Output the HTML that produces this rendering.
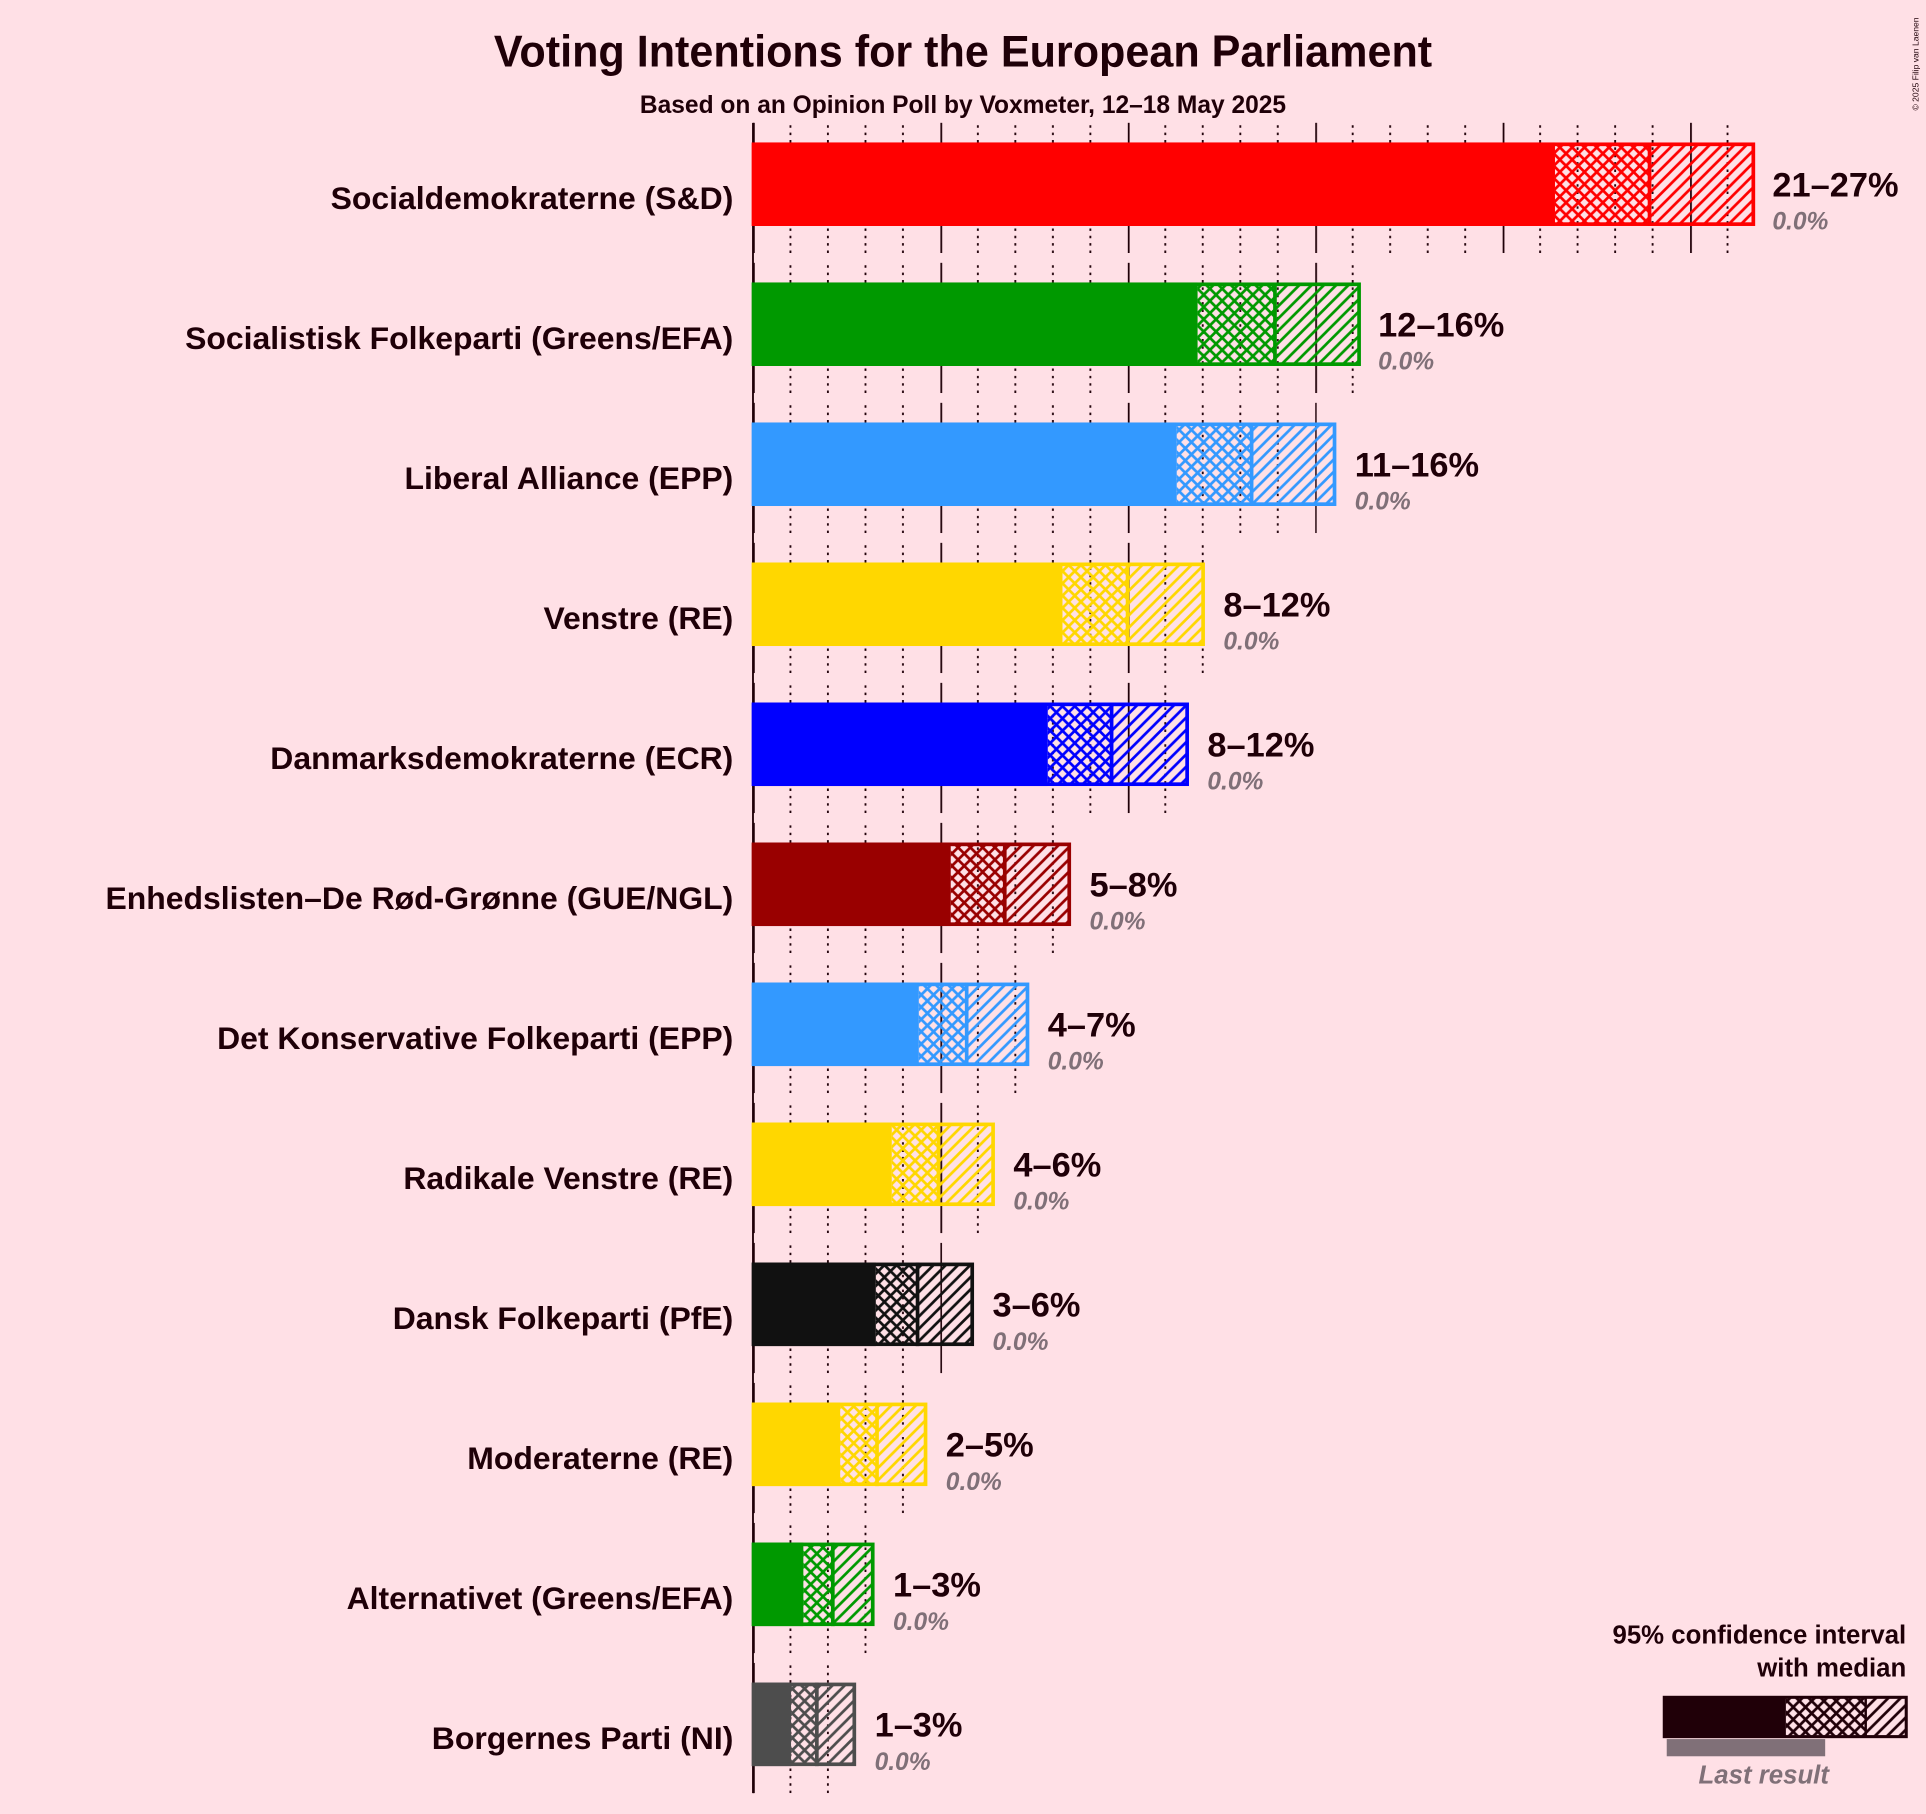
<!DOCTYPE html>
<html><head><meta charset="utf-8"><style>
html,body{margin:0;padding:0;background:#FFE0E6;}
svg{display:block;font-family:"Liberation Sans",sans-serif;}
.n{font-size:26px;font-weight:bold;fill:#1F0008;text-anchor:end;}
.r{font-size:28px;font-weight:bold;fill:#1F0008;}
.z{font-size:20px;font-style:italic;font-weight:bold;fill:#807078;}
</style></head><body>
<svg width="1926" height="1814" viewBox="0 0 1568 1477" xmlns="http://www.w3.org/2000/svg">
<defs>
<pattern id="g" patternUnits="userSpaceOnUse" x="613" y="0" width="152.6" height="1477">
<line x1="0.7" y1="0" x2="0.7" y2="1477" stroke="#1F0008" stroke-width="1.5"/>
<g stroke="#1F0008" stroke-width="1.5" stroke-dasharray="2,4">
<line x1="30.5" y1="0" x2="30.5" y2="1477"/><line x1="61" y1="0" x2="61" y2="1477"/><line x1="91.6" y1="0" x2="91.6" y2="1477"/><line x1="122.1" y1="0" x2="122.1" y2="1477"/></g>
</pattern>
<pattern id="cR" patternUnits="userSpaceOnUse" width="10" height="10"><path d="M-1,-1 L11,11 M11,-1 L-1,11" stroke="#FF0000" stroke-width="2.2"/></pattern>
<pattern id="dR" patternUnits="userSpaceOnUse" width="10" height="10"><path d="M-5,5 L5,-5 M0,10 L10,0 M5,15 L15,5" stroke="#FF0000" stroke-width="2.2"/></pattern>
<pattern id="cG" patternUnits="userSpaceOnUse" width="10" height="10"><path d="M-1,-1 L11,11 M11,-1 L-1,11" stroke="#009900" stroke-width="2.2"/></pattern>
<pattern id="dG" patternUnits="userSpaceOnUse" width="10" height="10"><path d="M-5,5 L5,-5 M0,10 L10,0 M5,15 L15,5" stroke="#009900" stroke-width="2.2"/></pattern>
<pattern id="cL" patternUnits="userSpaceOnUse" width="10" height="10"><path d="M-1,-1 L11,11 M11,-1 L-1,11" stroke="#3399FF" stroke-width="2.2"/></pattern>
<pattern id="dL" patternUnits="userSpaceOnUse" width="10" height="10"><path d="M-5,5 L5,-5 M0,10 L10,0 M5,15 L15,5" stroke="#3399FF" stroke-width="2.2"/></pattern>
<pattern id="cY" patternUnits="userSpaceOnUse" width="10" height="10"><path d="M-1,-1 L11,11 M11,-1 L-1,11" stroke="#FFD700" stroke-width="2.2"/></pattern>
<pattern id="dY" patternUnits="userSpaceOnUse" width="10" height="10"><path d="M-5,5 L5,-5 M0,10 L10,0 M5,15 L15,5" stroke="#FFD700" stroke-width="2.2"/></pattern>
<pattern id="cB" patternUnits="userSpaceOnUse" width="10" height="10"><path d="M-1,-1 L11,11 M11,-1 L-1,11" stroke="#0000FF" stroke-width="2.2"/></pattern>
<pattern id="dB" patternUnits="userSpaceOnUse" width="10" height="10"><path d="M-5,5 L5,-5 M0,10 L10,0 M5,15 L15,5" stroke="#0000FF" stroke-width="2.2"/></pattern>
<pattern id="cD" patternUnits="userSpaceOnUse" width="10" height="10"><path d="M-1,-1 L11,11 M11,-1 L-1,11" stroke="#990000" stroke-width="2.2"/></pattern>
<pattern id="dD" patternUnits="userSpaceOnUse" width="10" height="10"><path d="M-5,5 L5,-5 M0,10 L10,0 M5,15 L15,5" stroke="#990000" stroke-width="2.2"/></pattern>
<pattern id="cK" patternUnits="userSpaceOnUse" width="10" height="10"><path d="M-1,-1 L11,11 M11,-1 L-1,11" stroke="#111111" stroke-width="2.2"/></pattern>
<pattern id="dK" patternUnits="userSpaceOnUse" width="10" height="10"><path d="M-5,5 L5,-5 M0,10 L10,0 M5,15 L15,5" stroke="#111111" stroke-width="2.2"/></pattern>
<pattern id="cE" patternUnits="userSpaceOnUse" width="10" height="10"><path d="M-1,-1 L11,11 M11,-1 L-1,11" stroke="#4D4D4D" stroke-width="2.2"/></pattern>
<pattern id="dE" patternUnits="userSpaceOnUse" width="10" height="10"><path d="M-5,5 L5,-5 M0,10 L10,0 M5,15 L15,5" stroke="#4D4D4D" stroke-width="2.2"/></pattern>
<pattern id="cX" patternUnits="userSpaceOnUse" width="10" height="10"><path d="M-1,-1 L11,11 M11,-1 L-1,11" stroke="#200008" stroke-width="2.2"/></pattern>
<pattern id="dX" patternUnits="userSpaceOnUse" width="10" height="10"><path d="M-5,5 L5,-5 M0,10 L10,0 M5,15 L15,5" stroke="#200008" stroke-width="2.2"/></pattern>
</defs>
<rect width="1568" height="1477" fill="#FFE0E6"/>
<text x="784" y="54" text-anchor="middle" font-size="36" font-weight="bold" fill="#1F0008" textLength="764" lengthAdjust="spacingAndGlyphs">Voting Intentions for the European Parliament</text>
<text x="784" y="92" text-anchor="middle" font-size="20" font-weight="bold" fill="#1F0008">Based on an Opinion Poll by Voxmeter, 12–18 May 2025</text>
<text x="1562" y="90" font-size="7" fill="#1F0008" transform="rotate(-90 1562 90)">© 2025 Filip van Laenen</text>

<g fill="url(#g)">
<rect x="612" y="100" width="797" height="106"/>
<rect x="612" y="214" width="491" height="106"/>
<rect x="612" y="328" width="460" height="106"/>
<rect x="612" y="442" width="369" height="106"/>
<rect x="612" y="556" width="338" height="106"/>
<rect x="612" y="670" width="247" height="106"/>
<rect x="612" y="784" width="216" height="106"/>
<rect x="612" y="898" width="186" height="106"/>
<rect x="612" y="1012" width="155" height="106"/>
<rect x="612" y="1126" width="125" height="106"/>
<rect x="612" y="1240" width="94" height="106"/>
<rect x="612" y="1354" width="64" height="106"/>
</g>
<line x1="613" y1="100" x2="613" y2="1460" stroke="#1F0008" stroke-width="1.5"/>

<g stroke-width="3">
<rect x="612" y="116" width="654" height="68" fill="#FF0000"/><rect x="1266" y="118" width="77" height="64" fill="url(#cR)"/><rect x="1343" y="118" width="85" height="64" fill="url(#dR)"/><rect x="613.5" y="117.5" width="814" height="65" fill="none" stroke="#FF0000"/><line x1="1343" y1="116" x2="1343" y2="184" stroke="#FF0000"/>
<rect x="612" y="230" width="363" height="68" fill="#009900"/><rect x="975" y="232" width="63" height="64" fill="url(#cG)"/><rect x="1038" y="232" width="69" height="64" fill="url(#dG)"/><rect x="613.5" y="231.5" width="493" height="65" fill="none" stroke="#009900"/><line x1="1038" y1="230" x2="1038" y2="298" stroke="#009900"/>
<rect x="612" y="344" width="346" height="68" fill="#3399FF"/><rect x="958" y="346" width="61" height="64" fill="url(#cL)"/><rect x="1019" y="346" width="68" height="64" fill="url(#dL)"/><rect x="613.5" y="345.5" width="473" height="65" fill="none" stroke="#3399FF"/><line x1="1019" y1="344" x2="1019" y2="412" stroke="#3399FF"/>
<rect x="612" y="458" width="253" height="68" fill="#FFD700"/><rect x="865" y="460" width="53" height="64" fill="url(#cY)"/><rect x="918" y="460" width="62" height="64" fill="url(#dY)"/><rect x="613.5" y="459.5" width="366" height="65" fill="none" stroke="#FFD700"/><line x1="918" y1="458" x2="918" y2="526" stroke="#FFD700"/>
<rect x="612" y="572" width="241" height="68" fill="#0000FF"/><rect x="853" y="574" width="52" height="64" fill="url(#cB)"/><rect x="905" y="574" width="62" height="64" fill="url(#dB)"/><rect x="613.5" y="573.5" width="353" height="65" fill="none" stroke="#0000FF"/><line x1="905" y1="572" x2="905" y2="640" stroke="#0000FF"/>
<rect x="612" y="686" width="162" height="68" fill="#990000"/><rect x="774" y="688" width="44" height="64" fill="url(#cD)"/><rect x="818" y="688" width="53" height="64" fill="url(#dD)"/><rect x="613.5" y="687.5" width="257" height="65" fill="none" stroke="#990000"/><line x1="818" y1="686" x2="818" y2="754" stroke="#990000"/>
<rect x="612" y="800" width="136" height="68" fill="#3399FF"/><rect x="748" y="802" width="39" height="64" fill="url(#cL)"/><rect x="787" y="802" width="50" height="64" fill="url(#dL)"/><rect x="613.5" y="801.5" width="223" height="65" fill="none" stroke="#3399FF"/><line x1="787" y1="800" x2="787" y2="868" stroke="#3399FF"/>
<rect x="612" y="914" width="114" height="68" fill="#FFD700"/><rect x="726" y="916" width="38" height="64" fill="url(#cY)"/><rect x="764" y="916" width="45" height="64" fill="url(#dY)"/><rect x="613.5" y="915.5" width="195" height="65" fill="none" stroke="#FFD700"/><line x1="764" y1="914" x2="764" y2="982" stroke="#FFD700"/>
<rect x="612" y="1028" width="101" height="68" fill="#111111"/><rect x="713" y="1030" width="34" height="64" fill="url(#cK)"/><rect x="747" y="1030" width="45" height="64" fill="url(#dK)"/><rect x="613.5" y="1029.5" width="178" height="65" fill="none" stroke="#111111"/><line x1="747" y1="1028" x2="747" y2="1096" stroke="#111111"/>
<rect x="612" y="1142" width="72" height="68" fill="#FFD700"/><rect x="684" y="1144" width="30" height="64" fill="url(#cY)"/><rect x="714" y="1144" width="40" height="64" fill="url(#dY)"/><rect x="613.5" y="1143.5" width="140" height="65" fill="none" stroke="#FFD700"/><line x1="714" y1="1142" x2="714" y2="1210" stroke="#FFD700"/>
<rect x="612" y="1256" width="42" height="68" fill="#009900"/><rect x="654" y="1258" width="24" height="64" fill="url(#cG)"/><rect x="678" y="1258" width="33" height="64" fill="url(#dG)"/><rect x="613.5" y="1257.5" width="97" height="65" fill="none" stroke="#009900"/><line x1="678" y1="1256" x2="678" y2="1324" stroke="#009900"/>
<rect x="612" y="1370" width="32" height="68" fill="#4D4D4D"/><rect x="644" y="1372" width="21" height="64" fill="url(#cE)"/><rect x="665" y="1372" width="31" height="64" fill="url(#dE)"/><rect x="613.5" y="1371.5" width="82" height="65" fill="none" stroke="#4D4D4D"/><line x1="665" y1="1370" x2="665" y2="1438" stroke="#4D4D4D"/>
</g>

<text class="n" x="597" y="170">Socialdemokraterne (S&amp;D)</text>
<text class="n" x="597" y="284">Socialistisk Folkeparti (Greens/EFA)</text>
<text class="n" x="597" y="398">Liberal Alliance (EPP)</text>
<text class="n" x="597" y="512">Venstre (RE)</text>
<text class="n" x="597" y="626">Danmarksdemokraterne (ECR)</text>
<text class="n" x="597" y="740">Enhedslisten–De Rød-Grønne (GUE/NGL)</text>
<text class="n" x="597" y="854">Det Konservative Folkeparti (EPP)</text>
<text class="n" x="597" y="968">Radikale Venstre (RE)</text>
<text class="n" x="597" y="1082">Dansk Folkeparti (PfE)</text>
<text class="n" x="597" y="1196">Moderaterne (RE)</text>
<text class="n" x="597" y="1310">Alternativet (Greens/EFA)</text>
<text class="n" x="597" y="1424">Borgernes Parti (NI)</text>

<text class="r" x="1443" y="160">21–27%</text><text class="z" x="1443" y="187">0.0%</text>
<text class="r" x="1122" y="274">12–16%</text><text class="z" x="1122" y="301">0.0%</text>
<text class="r" x="1103" y="388">11–16%</text><text class="z" x="1103" y="415">0.0%</text>
<text class="r" x="996" y="502">8–12%</text><text class="z" x="996" y="529">0.0%</text>
<text class="r" x="983" y="616">8–12%</text><text class="z" x="983" y="643">0.0%</text>
<text class="r" x="887" y="730">5–8%</text><text class="z" x="887" y="757">0.0%</text>
<text class="r" x="853" y="844">4–7%</text><text class="z" x="853" y="871">0.0%</text>
<text class="r" x="825" y="958">4–6%</text><text class="z" x="825" y="985">0.0%</text>
<text class="r" x="808" y="1072">3–6%</text><text class="z" x="808" y="1099">0.0%</text>
<text class="r" x="770" y="1186">2–5%</text><text class="z" x="770" y="1213">0.0%</text>
<text class="r" x="727" y="1300">1–3%</text><text class="z" x="727" y="1327">0.0%</text>
<text class="r" x="712" y="1414">1–3%</text><text class="z" x="712" y="1441">0.0%</text>

<text x="1552" y="1338" text-anchor="end" font-size="21" font-weight="bold" fill="#1F0008">95% confidence interval</text>
<text x="1552" y="1365" text-anchor="end" font-size="21" font-weight="bold" fill="#1F0008">with median</text>
<rect x="1357" y="1416" width="129" height="14" fill="#807078"/>
<rect x="1354" y="1381" width="100" height="34" fill="#200008"/>
<rect x="1454" y="1383" width="65" height="30" fill="url(#cX)"/>
<rect x="1519" y="1383" width="33" height="30" fill="url(#dX)"/>
<rect x="1355" y="1382" width="197" height="32" fill="none" stroke="#200008" stroke-width="2.5"/>
<line x1="1519" y1="1382" x2="1519" y2="1414" stroke="#200008" stroke-width="2"/>
<text x="1436" y="1452" text-anchor="middle" font-size="21" font-style="italic" font-weight="bold" fill="#807078">Last result</text>
</svg>
</body></html>
